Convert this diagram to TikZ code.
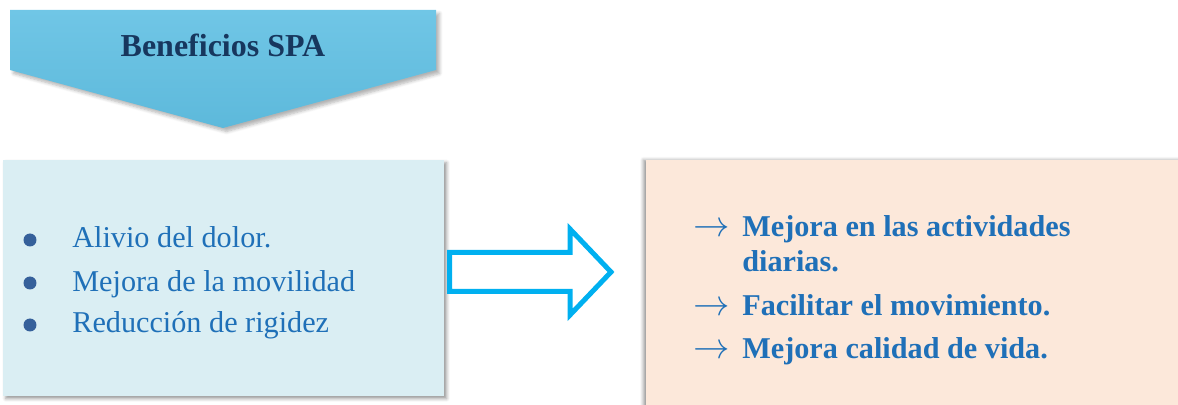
\documentclass[tikz,border=0pt]{standalone}
\usepackage{fontspec}
\setmainfont{Liberation Serif}
\usetikzlibrary{positioning,
                shadows.blur}               % soft shadows under the boxes

\definecolor{chevrontop}{HTML}{70C6E6}
\definecolor{chevronbot}{HTML}{5DB9DB}
\definecolor{titlenavy}{HTML}{17375E}
\definecolor{paleblue}{HTML}{DAEEF3}
\definecolor{peach}{HTML}{FCE8DA}
\definecolor{textblue}{HTML}{1F70B8}
\definecolor{bulletblue}{HTML}{35609A}
\definecolor{arrowcyan}{HTML}{00B0F0}

\tikzset{
  itemtext/.style={anchor=base west, inner sep=0pt, text=textblue,
                   font=\fontsize{17.2}{20}\selectfont},
  goaltext/.style={anchor=base west, inner sep=0pt, text=textblue,
                   font=\bfseries\fontsize{17.2}{20}\selectfont},
  arrowmark/.style={anchor=base west, inner sep=0pt, text=textblue,
                   font=\fontsize{21}{22}\selectfont},
  dotmark/.style={circle, fill=bulletblue, inner sep=0pt, minimum size=0.26cm},
}

\begin{document}
\begin{tikzpicture}[x=0.02cm, y=-0.02cm]
        \useasboundingbox (0,0) rectangle (1178,405);
        \clip (0,0) rectangle (1178,405);

        % title chevron
        \path[top color=chevrontop, bottom color=chevronbot,
              blur shadow={shadow xshift=2pt, shadow yshift=-2pt, shadow blur steps=6, shadow opacity=30}]
              (10,10) -- (436,10) -- (436,70) -- (223,128) -- (10,70) -- cycle;
        \node[anchor=base, inner sep=0pt, text=titlenavy,
              font=\bfseries\fontsize{18.2}{20}\selectfont] (titulo) at (223,57) {Beneficios SPA};

        % left box
        \path[fill=paleblue, blur shadow={shadow xshift=1.5pt, shadow yshift=-1.5pt, shadow blur steps=4}]
              (3,160) rectangle (444,396);
        \node[dotmark] (b1) at (30,240) {};
        \node[dotmark] (b2) at (30,283) {};
        \node[dotmark] (b3) at (30,325) {};
        \node[itemtext] (alivio)    at (72,248) {Alivio del dolor.};
        \node[itemtext] (movilidad) at (72,292) {Mejora de la movilidad};
        \node[itemtext] (rigidez)   at (72,333) {Reducción de rigidez};

        % big outlined arrow
        \draw[arrowcyan, line width=0.1cm, miter limit=4]
              (449.5,252.5) -- (570,252.5) -- (570,229) -- (611,272)
              -- (570,315) -- (570,291.5) -- (449.5,291.5) -- cycle;

        % right box
        \path[fill=peach, blur shadow={shadow xshift=-1.5pt, shadow yshift=0pt, shadow blur steps=4}]
              (646,160) rectangle (1200,420);
        \node[arrowmark] (a1) at (693,237) {$\rightarrow$};
        \node[arrowmark] (a2) at (693,316) {$\rightarrow$};
        \node[arrowmark] (a3) at (693,359) {$\rightarrow$};
        \node[goaltext] (diarias1) at (742,237) {Mejora en las actividades};
        \node[goaltext] (diarias2) at (742,272) {diarias.};
        \node[goaltext] (movim)    at (742,316) {Facilitar el movimiento.};
        \node[goaltext] (vida)     at (742,359) {Mejora calidad de vida.};

\end{tikzpicture}
\end{document}
